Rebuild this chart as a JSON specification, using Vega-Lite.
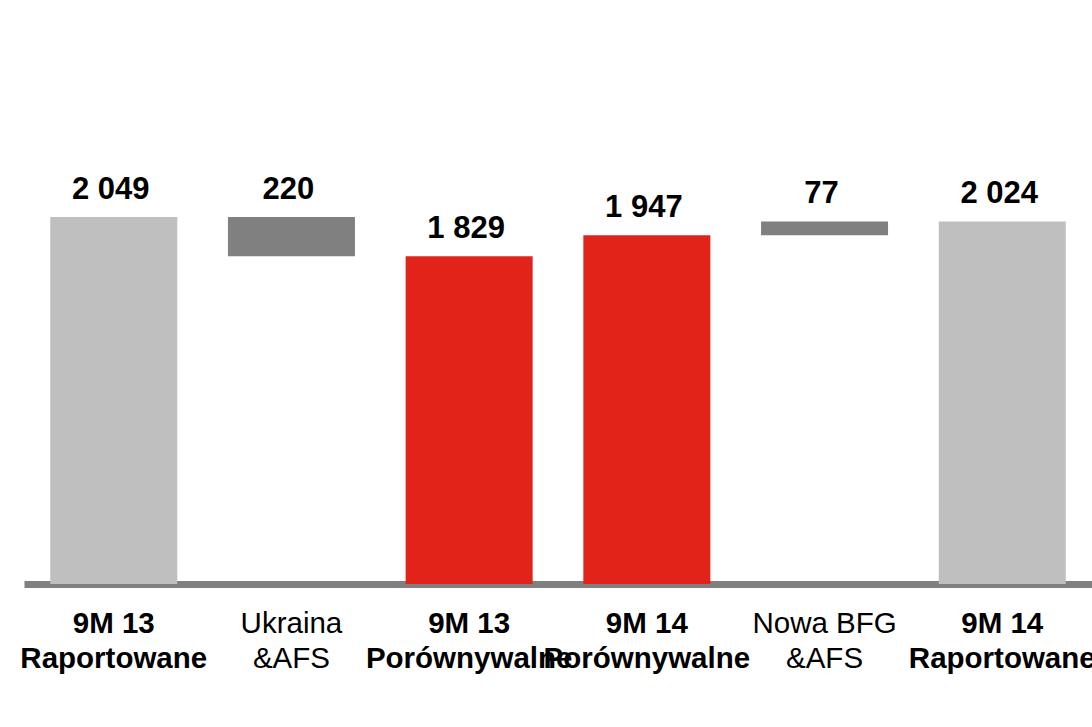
{
  "$schema": "https://vega.github.io/schema/vega-lite/v6.json",
  "autosize": "none",
  "width": 1080,
  "height": 713,
  "padding": {"left": 12, "top": 14, "right": 0, "bottom": 0},
  "background": "white",
  "config": {
    "view": {"stroke": null}
  },
  "datasets": {
    "bars": [
      {"cat": "9M 13 Raportowane", "start": 0, "end": 2049, "label": "2 049", "type": "raport"},
      {"cat": "Ukraina &AFS", "start": 1829, "end": 2049, "label": "220", "type": "delta"},
      {"cat": "9M 13 Porównywalne", "start": 0, "end": 1829, "label": "1 829", "type": "porown"},
      {"cat": "9M 14 Porównywalne", "start": 0, "end": 1947, "label": "1 947", "type": "porown"},
      {"cat": "Nowa BFG &AFS", "start": 1947, "end": 2024, "label": "77", "type": "delta"},
      {"cat": "9M 14 Raportowane", "start": 0, "end": 2024, "label": "2 024", "type": "raport"}
    ]
  },
  "data": {"name": "bars"},
  "layer": [
    {
      "mark": {"type": "bar"},
      "encoding": {
        "x": {
          "field": "cat", "type": "nominal", "sort": null,
          "scale": {"range": [12, 1080], "paddingInner": 0.2853, "paddingOuter": 0.1477},
          "axis": {
            "title": null, "orient": "bottom", "offset": -143,
            "domain": true, "domainColor": "#808080", "domainWidth": 7,
            "ticks": false,
            "labelAngle": 0, "labelFont": "Liberation Sans", "labelFontSize": 29.5, "labelColor": "#000000",
            "labelFontWeight": {"condition": {"test": "indexof(datum.value, '&AFS') >= 0", "value": "normal"}, "value": "bold"},
            "labelBaseline": "top", "labelPadding": 25, "labelLineHeight": 35, "labelLimit": 500, "labelOverlap": false,
            "labelExpr": "[slice(datum.label, 0, lastindexof(datum.label, ' ')), slice(datum.label, lastindexof(datum.label, ' ') + 1)]"
          }
        },
        "y": {"field": "end", "type": "quantitative", "scale": {"domain": [0, 3182], "range": [570, 0], "nice": false, "zero": false}, "axis": null},
        "y2": {"field": "start"},
        "color": {
          "field": "type", "type": "nominal", "legend": null,
          "scale": {"domain": ["raport", "delta", "porown"], "range": ["#bfbfbf", "#808080", "#e2231a"]}
        }
      }
    },
    {
      "mark": {"type": "text", "fontSize": 31, "fontWeight": "bold", "font": "Liberation Sans", "color": "#000000", "baseline": "alphabetic", "dy": -18, "dx": -3},
      "encoding": {
        "x": {"field": "cat", "type": "nominal", "sort": null},
        "y": {"field": "end", "type": "quantitative"},
        "text": {"field": "label", "type": "nominal"}
      }
    }
  ]
}
